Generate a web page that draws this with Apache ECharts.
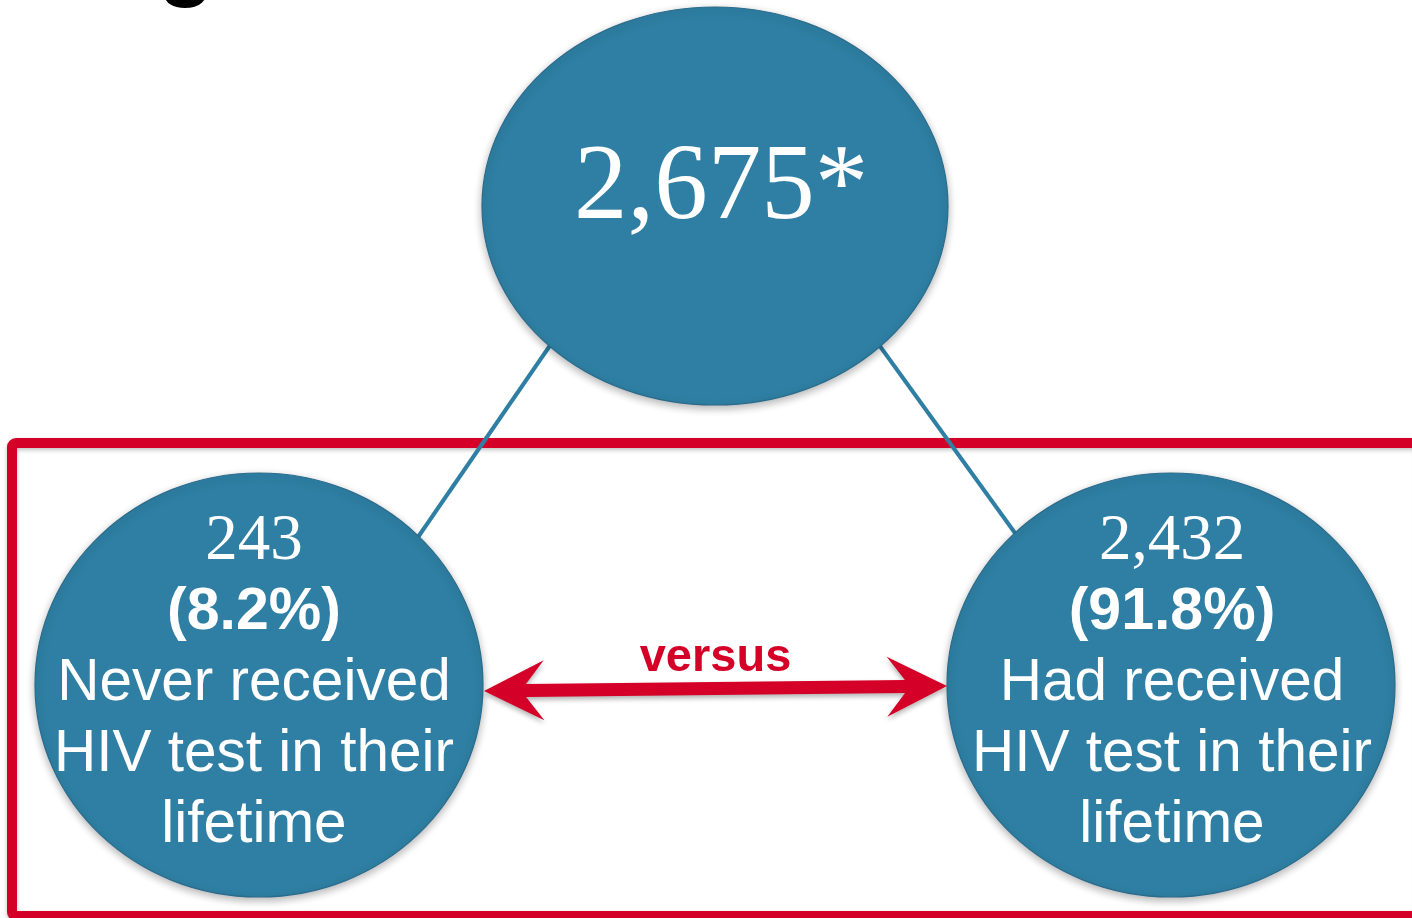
<!DOCTYPE html>
<html>
<head>
<meta charset="utf-8">
<style>
  html, body { margin: 0; padding: 0; background: #fff; }
  #main { width: 1412px; height: 918px; }
</style>
<script src="https://cdn.jsdelivr.net/npm/echarts@6.0.0/dist/echarts.min.js"></script>
</head>
<body>
<div id="main"></div>
<script>
// data
var totalCount = 2675;
var totalMark = "*";
var groupCounts = [243, 2432];
var groupPercents = [8.2, 91.8];
var groupLabels = [
  ["Never received", "HIV test in their", "lifetime"],
  ["Had received", "HIV test in their", "lifetime"]
];
var compareLabel = "versus";

// layout, in pixels (y goes down)
var topNode = { cx: 715, cy: 206, rx: 233, ry: 199, tx: 721, ty: 190 };
var groupNodes = [
  { cx: 259, cy: 685, rx: 224, ry: 212, tx: 254, ty: 684 },
  { cx: 1171, cy: 685, rx: 224, ry: 212, tx: 1172, ty: 684 }
];
var links = [
  [[560, 331], [405, 556]],
  [[869, 331], [1028, 551]]
];
var arrowEnds = [[484, 691], [947, 686]];
var frameBox = [12, 443, 1420, 916];

var BLUE = "#2e7fa3";
var RED = "#d50027";

function fmt(n) {
  return n.toLocaleString("en-US");
}

function renderFrame(params, api) {
  var a = api.coord([frameBox[0], frameBox[1]]);
  var b = api.coord([frameBox[2], frameBox[3]]);
  return {
    type: "rect",
    shape: { x: a[0], y: a[1], width: b[0] - a[0], height: b[1] - a[1], r: 4 },
    style: {
      fill: "none", stroke: RED, lineWidth: 10,
      shadowBlur: 4, shadowOffsetY: 2, shadowColor: "rgba(0,0,0,0.25)"
    }
  };
}

function renderLink(params, api) {
  var l = links[api.value(0)];
  var p1 = api.coord(l[0]);
  var p2 = api.coord(l[1]);
  return {
    type: "line",
    shape: { x1: p1[0], y1: p1[1], x2: p2[0], y2: p2[1] },
    style: { stroke: BLUE, lineWidth: 4 }
  };
}

function renderNode(params, api) {
  var i = api.value(0);
  var n = i === 0 ? topNode : groupNodes[i - 1];
  var c = api.coord([n.cx, n.cy]);
  var s = api.size([n.rx, n.ry]);
  var t = api.coord([n.tx, n.ty]);
  var text, rich;
  if (i === 0) {
    text = "{big|" + fmt(totalCount) + totalMark + "}";
  } else {
    var k = i - 1;
    text = "{n|" + fmt(groupCounts[k]) + "}\n{p|(" + groupPercents[k] + "%)}\n" +
      groupLabels[k].map(function (s) { return "{t|" + s + "}"; }).join("\n");
  }
  rich = {
    big: { fontFamily: "Liberation Serif", fontSize: 107, fill: "#fff" },
    n: { fontFamily: "Liberation Serif", fontSize: 65, fill: "#fff", lineHeight: 71 },
    p: { fontFamily: "Liberation Sans", fontWeight: "bold", fontSize: 59, fill: "#fff", lineHeight: 71 },
    t: { fontFamily: "Liberation Sans", fontSize: 58.5, fill: "#fff", lineHeight: 71 }
  };
  return {
    type: "group",
    children: [
      {
        type: "ellipse",
        shape: { cx: c[0], cy: c[1], rx: s[0], ry: s[1] },
        style: {
          fill: BLUE, stroke: "#2a6b8c", lineWidth: 1.2,
          shadowBlur: 8, shadowOffsetY: 3, shadowColor: "rgba(0,0,0,0.3)"
        }
      },
      {
        type: "text",
        x: t[0], y: t[1],
        style: { text: text, rich: rich, align: "center", verticalAlign: "middle", fill: "#fff" }
      }
    ]
  };
}

// 双向箭头，由两端点算出形状
function renderArrow(params, api) {
  var L = api.coord(arrowEnds[0]);
  var R = api.coord(arrowEnds[1]);
  var dx = R[0] - L[0], dy = R[1] - L[1];
  var len = Math.sqrt(dx * dx + dy * dy);
  var ux = dx / len, uy = dy / len;
  var nx = -uy, ny = ux;
  var head = 60, half = 30, joint = 42, shaft = 6.5;
  function pt(base, along, side) {
    return [base[0] + ux * along + nx * side, base[1] + uy * along + ny * side];
  }
  var pts = [
    L, pt(L, head, -half), pt(L, joint, -shaft),
    pt(R, -joint, -shaft), pt(R, -head, -half), R,
    pt(R, -head, half), pt(R, -joint, shaft),
    pt(L, joint, shaft), pt(L, head, half)
  ];
  var mid = api.coord([(arrowEnds[0][0] + arrowEnds[1][0]) / 2, 658]);
  return {
    type: "group",
    children: [
      {
        type: "polygon",
        shape: { points: pts },
        style: {
          fill: RED,
          shadowBlur: 5, shadowOffsetY: 3, shadowColor: "rgba(0,0,0,0.3)"
        }
      },
      {
        type: "text",
        x: mid[0], y: mid[1],
        style: {
          text: compareLabel, fill: RED, align: "center", verticalAlign: "middle",
          fontFamily: "Liberation Sans", fontWeight: "bold", fontSize: 47
        }
      }
    ]
  };
}

var myChart = echarts.init(document.getElementById("main"));
var option = {
  animation: false,
  grid: { left: 0, right: 0, top: 0, bottom: 0 },
  xAxis: { type: "value", min: 0, max: 1412, show: false },
  yAxis: { type: "value", min: 0, max: 918, inverse: true, show: false },
  graphic: [
    {
      // 标题被裁掉，只剩 g 的下半部分
      type: "text", left: 158, top: -82, z: 10,
      style: { text: "g", fontFamily: "Liberation Sans", fontWeight: "bold", fontSize: 92, fill: "#000" }
    }
  ],
  series: [
    { type: "custom", z: 1, clip: false, renderItem: renderFrame, data: [[0]] },
    { type: "custom", z: 2, clip: false, renderItem: renderLink, data: [[0], [1]] },
    { type: "custom", z: 3, clip: false, renderItem: renderNode, data: [[0], [1], [2]] },
    { type: "custom", z: 4, clip: false, renderItem: renderArrow, data: [[0]] }
  ]
};
myChart.setOption(option);
</script>
</body>
</html>
